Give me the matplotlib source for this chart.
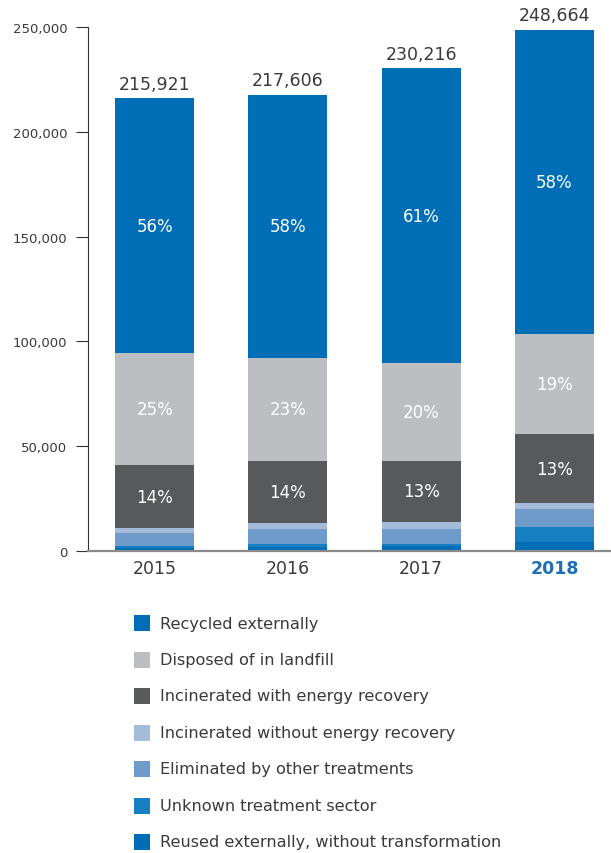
import numpy as np
import matplotlib.pyplot as plt
from matplotlib.patches import Rectangle

# Waste by treatment route, tonnes
years = ['2015', '2016', '2017', '2018']
totals = [215921, 217606, 230216, 248664]

reused = [1400, 2000, 2500, 4300]
unknown = [1000, 1300, 800, 7200]
eliminated = [6200, 7200, 7200, 8500]
incin_no_energy = [2400, 2900, 3300, 2900]
incin_energy = [30000, 29600, 29200, 32900]
landfill = [53500, 49100, 46700, 47700]
recycled = [121421, 125506, 140516, 145164]

labels = ['Reused externally, without transformation', 'Unknown treatment sector',
          'Eliminated by other treatments', 'Incinerated without energy recovery',
          'Incinerated with energy recovery', 'Disposed of in landfill',
          'Recycled externally']
series = [reused, unknown, eliminated, incin_no_energy, incin_energy, landfill, recycled]
colors = ['#006db6', '#167fc1', '#6e9bc9', '#a4bcd9', '#58595b', '#bdbec2', '#006eb7']
show_pct = [False, False, False, False, True, True, True]

plt.rcParams['font.family'] = ['DejaVu Sans']
text_col = '#3a3a3a'

fig = plt.figure(figsize=(6.11, 8.54), dpi=100)
ax = fig.add_axes([88 / 611, 1 - 552 / 854, 523 / 611, 524 / 854])

x = np.arange(len(years))
width = 0.593
bottom = np.zeros(len(years))
for vals, col, pct in zip(series, colors, show_pct):
    vals = np.array(vals, dtype=float)
    ax.bar(x, vals, width, bottom=bottom, color=col, linewidth=0)
    if pct:
        for i in range(len(years)):
            share = vals[i] / totals[i] * 100
            ax.text(x[i], bottom[i] + vals[i] / 2, f'{share:.0f}%', color='white',
                    ha='center', va='center', fontsize=12)
    bottom += vals

for i, t in enumerate(totals):
    ax.annotate(f'{t:,}', (x[i], bottom[i]), xytext=(0, 4), textcoords='offset points',
                ha='center', va='bottom', fontsize=12.5, color=text_col)

ax.set_xlim(-0.5, 3.424)
ax.set_ylim(0, 250000)
ax.set_yticks(np.arange(0, 250001, 50000))
ax.set_yticklabels([f'{v:,}' for v in range(0, 250001, 50000)], fontsize=9.5, color=text_col)
ax.tick_params(axis='y', length=9, width=0.8, color='#333333', pad=6)
ax.set_xticks(x)
ax.set_xticklabels(years, fontsize=12.5, color=text_col)
ax.tick_params(axis='x', length=0, pad=6)
xt = ax.get_xticklabels()[-1]
xt.set_fontweight('bold')
xt.set_color('#1f6fb5')

for s in ['top', 'right']:
    ax.spines[s].set_visible(False)
ax.spines['left'].set_color('#333333')
ax.spines['left'].set_linewidth(0.8)
ax.spines['bottom'].set_color('#8a8a8a')
ax.spines['bottom'].set_linewidth(1.6)

# legend, top row first
rows_y = [624, 661, 697, 734, 770, 807, 843]
for k, idx in enumerate(range(len(labels) - 1, -1, -1)):
    yc = 1 - rows_y[k] / 854
    fig.add_artist(Rectangle((134 / 611, yc - 8 / 854), 16 / 611, 16 / 854,
                             transform=fig.transFigure, color=colors[idx], lw=0))
    fig.text(160 / 611, yc, labels[idx], ha='left', va='center', fontsize=11.6, color=text_col)

plt.savefig('out.png', dpi=100)
